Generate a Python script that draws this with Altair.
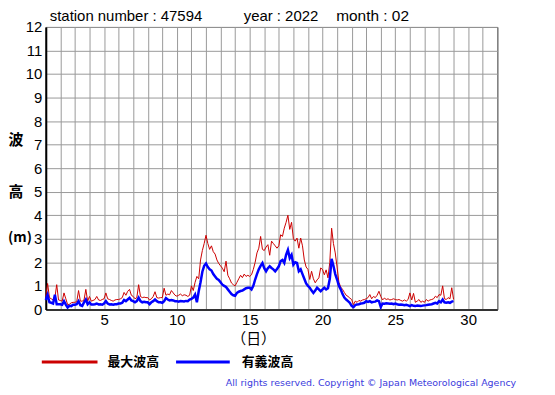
import altair as alt
import pandas as pd

# 3-hourly readings, day 1 00h .. day 29 00h
hmax_by_day = [
    [0.55, 1.1, 0.5, 0.45, 0.4, 0.5, 1.05, 0.4],
    [0.38, 0.35, 0.7, 0.45, 0.2, 0.22, 0.28, 0.3],
    [0.3, 0.33, 0.8, 0.35, 0.35, 0.4, 0.85, 0.35],
    [0.55, 0.35, 0.38, 0.42, 0.55, 0.4, 0.38, 0.42],
    [0.45, 0.7, 0.45, 0.42, 0.38, 0.35, 0.4, 0.42],
    [0.42, 0.45, 0.5, 0.72, 0.6, 0.77, 0.85, 0.6],
    [0.55, 0.45, 0.5, 1.05, 0.55, 0.5, 0.52, 0.5],
    [0.5, 0.4, 0.45, 0.55, 0.75, 0.5, 0.48, 0.5],
    [0.5, 0.9, 0.6, 0.65, 0.62, 0.8, 0.7, 0.6],
    [0.56, 0.6, 0.65, 0.58, 0.62, 0.6, 0.55, 0.6],
    [1.0, 0.8, 1.15, 1.4, 1.3, 2.1, 2.5, 2.8],
    [3.15, 2.8, 2.55, 2.7, 2.45, 2.35, 2.1, 1.95],
    [1.85, 1.75, 1.6, 2.05, 1.45, 1.3, 1.12, 1.05],
    [1.0, 1.15, 1.3, 1.45, 1.35, 1.5, 1.4, 1.45],
    [1.4, 1.47, 1.7, 2.0, 2.4, 2.6, 3.1, 2.55],
    [2.5, 2.65, 2.75, 2.3, 2.9, 2.8, 2.7, 2.6],
    [2.7, 3.17, 3.1, 3.45, 3.7, 4.0, 3.4, 3.7],
    [3.0, 2.9, 3.03, 2.6, 3.03, 2.7, 2.1, 1.8],
    [1.7, 1.27, 1.62, 1.3, 1.13, 1.25, 1.34, 1.76],
    [1.7, 1.47, 1.68, 1.34, 2.0, 3.45, 2.8, 2.4],
    [1.8, 1.15, 0.95, 0.85, 0.72, 0.6, 0.55, 0.48],
    [0.42, 0.2, 0.35, 0.3, 0.38, 0.35, 0.4, 0.42],
    [0.45, 0.5, 0.63, 0.45, 0.55, 0.5, 0.6, 0.77],
    [0.55, 0.4, 0.48, 0.42, 0.45, 0.4, 0.42, 0.45],
    [0.42, 0.4, 0.42, 0.38, 0.35, 0.4, 0.35, 0.42],
    [0.7, 0.4, 0.68, 0.3, 0.35, 0.42, 0.3, 0.35],
    [0.3, 0.42, 0.35, 0.4, 0.42, 0.45, 0.56, 0.5],
    [0.63, 0.6, 1.0, 0.45, 0.42, 0.5, 0.45, 0.92],
    [0.42],
]

h13_by_day = [
    [0.4, 0.62, 0.3, 0.28, 0.25, 0.62, 0.22, 0.22],
    [0.22, 0.2, 0.35, 0.2, 0.08, 0.15, 0.14, 0.2],
    [0.2, 0.22, 0.35, 0.18, 0.15, 0.3, 0.42, 0.22],
    [0.3, 0.21, 0.21, 0.22, 0.25, 0.21, 0.22, 0.2],
    [0.25, 0.35, 0.25, 0.21, 0.22, 0.2, 0.22, 0.22],
    [0.25, 0.25, 0.28, 0.4, 0.35, 0.42, 0.49, 0.38],
    [0.35, 0.3, 0.35, 0.5, 0.35, 0.3, 0.32, 0.3],
    [0.3, 0.22, 0.3, 0.35, 0.42, 0.35, 0.3, 0.3],
    [0.28, 0.35, 0.48, 0.42, 0.38, 0.4, 0.38, 0.35],
    [0.35, 0.33, 0.36, 0.35, 0.34, 0.36, 0.35, 0.42],
    [0.45, 0.5, 0.63, 0.3, 0.77, 1.15, 1.6, 1.85],
    [1.95, 1.8, 1.7, 1.65, 1.5, 1.4, 1.3, 1.25],
    [1.15, 1.05, 1.0, 0.95, 0.85, 0.75, 0.65, 0.6],
    [0.58, 0.7, 0.75, 0.78, 0.8, 0.85, 0.9, 0.92],
    [0.92, 0.85, 1.0, 1.27, 1.5, 1.7, 1.85, 1.97],
    [1.75, 1.62, 1.75, 1.83, 1.76, 1.7, 1.62, 1.72],
    [1.83, 2.05, 2.1, 1.97, 2.32, 2.53, 2.18, 2.32],
    [1.9, 2.0, 1.97, 1.62, 1.7, 1.5, 1.3, 1.1],
    [1.0, 0.92, 0.8, 0.7, 0.8, 0.92, 0.85, 0.77],
    [0.85, 0.92, 0.85, 0.9, 1.3, 2.15, 1.85, 1.5],
    [1.27, 1.0, 0.85, 0.65, 0.5, 0.42, 0.35, 0.28],
    [0.15, 0.1, 0.18, 0.21, 0.22, 0.25, 0.26, 0.28],
    [0.35, 0.32, 0.35, 0.3, 0.32, 0.33, 0.38, 0.35],
    [0.1, 0.25, 0.24, 0.26, 0.25, 0.24, 0.25, 0.22],
    [0.25, 0.22, 0.2, 0.21, 0.2, 0.18, 0.2, 0.17],
    [0.14, 0.18, 0.15, 0.14, 0.16, 0.15, 0.14, 0.16],
    [0.17, 0.18, 0.2, 0.21, 0.22, 0.25, 0.28, 0.25],
    [0.35, 0.3, 0.42, 0.3, 0.28, 0.3, 0.28, 0.33],
    [0.35],
]

hours = [0, 3, 6, 9, 12, 15, 18, 21]
x_ticks = list(range(1, 33))
y_ticks = list(range(0, 13))

rows = []
for i, vals in enumerate(hmax_by_day):
    for h, v in zip(hours, vals):
        rows.append({"day": i + 1 + h / 24, "v": v, "s": "max"})
for i, vals in enumerate(h13_by_day):
    for h, v in zip(hours, vals):
        rows.append({"day": i + 1 + h / 24, "v": v, "s": "sig"})
df = pd.DataFrame(rows)

FONT = "Liberation Sans"
JP = "Noto Sans CJK JP"

xaxis = alt.Axis(values=x_ticks, labelExpr="datum.value % 5 == 0 ? datum.label : ''",
                 grid=True, gridColor="#999999", gridWidth=1, ticks=False, title=None,
                 labelFont=FONT, labelFontSize=15, labelColor="black", labelPadding=3,
                 domainColor="#333333", domainWidth=2, labelFlush=False, labelOverlap=False)
yaxis = alt.Axis(values=y_ticks, grid=True, gridColor="#999999", gridWidth=1, ticks=False,
                 title=None, labelFont=FONT, labelFontSize=15, labelColor="black",
                 labelPadding=4, domainColor="black", domainWidth=2, labelOverlap=False)
xscale = alt.Scale(domain=[1, 32], nice=False, zero=False)
yscale = alt.Scale(domain=[0, 12], nice=False, zero=True)

base = alt.Chart(df).encode(
    x=alt.X("day:Q", scale=xscale, axis=xaxis),
    y=alt.Y("v:Q", scale=yscale, axis=yaxis),
)
red = base.transform_filter("datum.s == 'max'").mark_line(color="#cc0000", strokeWidth=1)
blue = base.transform_filter("datum.s == 'sig'").mark_line(color="#0000ff", strokeWidth=2.5)

one = pd.DataFrame({"a": [0]})


def txt(t, x, y, size=15, font=FONT, color="black", align="left", weight="normal"):
    return alt.Chart(one).mark_text(text=t, font=font, fontSize=size, color=color, align=align,
                                    baseline="middle", fontWeight=weight).encode(
        x=alt.value(x), y=alt.value(y))


def rule(x1, x2, y, color):
    return alt.Chart(one).mark_rule(color=color, strokeWidth=3).encode(
        x=alt.value(x1), x2=alt.value(x2), y=alt.value(y))


annotations = [
    txt("station number : 47594", 4, -11),
    txt("year : 2022", 199, -11),
    txt("month : 02", 292, -11, size=15.5),
    txt("波", -30, 114, size=15, font=JP, weight="bold", align="center"),
    txt("高", -30, 166, size=15, font=JP, weight="bold", align="center"),
    txt("(m)", -38, 212, size=14, font=JP, weight="bold", align="left"),
    txt("（日）", 209, 314, size=15, font=JP, align="center"),
    rule(-4, 52, 337, "#cc0000"),
    txt("最大波高", 62, 337, size=13, font=JP, weight="bold"),
    rule(131, 185, 337, "#0000ff"),
    txt("有義波高", 197, 337, size=13, font=JP, weight="bold"),
    txt("All rights reserved. Copyright © Japan Meteorological Agency", 473, 358,
        size=9.5, font="DejaVu Sans", color="#3b3bdd", align="right"),
]

chart = alt.layer(red, blue, *annotations).properties(
    width=454, height=284,
    padding={"left": 38, "top": 18, "right": 50, "bottom": 80},
    autosize=alt.AutoSizeParams(type="none"),
).configure_view(stroke="black", strokeWidth=1)

chart.save("out.html", embed_options={"renderer": "svg", "actions": False})
